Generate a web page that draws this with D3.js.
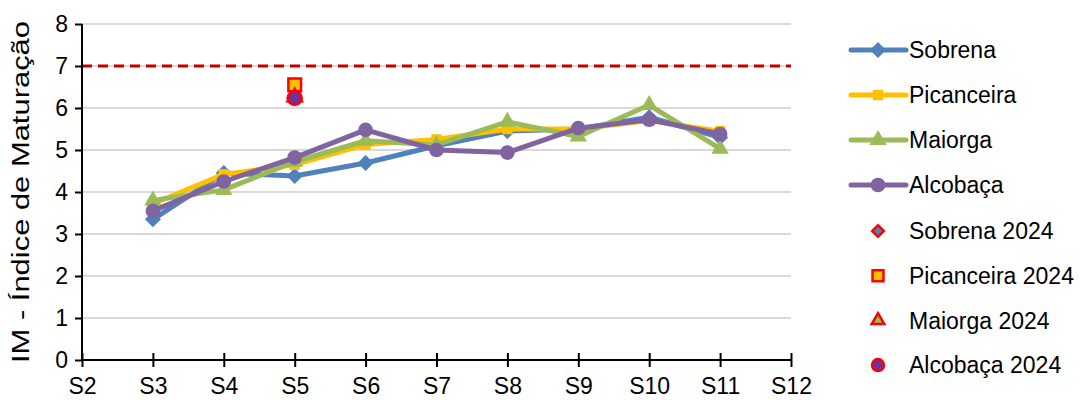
<!DOCTYPE html>
<html><head><meta charset="utf-8">
<script src="https://cdn.jsdelivr.net/npm/d3@7"></script>
<style>body{margin:0;background:#fff}text{font-family:"Liberation Sans",Arial,sans-serif;fill:#000}</style>
</head><body><svg id="c" width="1083" height="400"></svg>
<script>
const weeks = ["S2","S3","S4","S5","S6","S7","S8","S9","S10","S11","S12"];
const dataWeeks = ["S3","S4","S5","S6","S7","S8","S9","S10","S11"];
const sobrena    = [3.35,4.45,4.38,4.69,5.1,5.45,5.5,5.78,5.3];
const picanceira = [3.72,4.42,4.65,5.13,5.25,5.5,5.5,5.7,5.45];
const maiorga    = [3.8,4.05,4.72,5.22,5.12,5.67,5.32,6.07,5.03];
const alcobaca   = [3.55,4.25,4.82,5.48,5.0,4.94,5.52,5.72,5.38];
const week2024 = "S5";
const sobrena2024 = 6.24, picanceira2024 = 6.55, maiorga2024 = 6.26, alcobaca2024 = 6.24;
const yTicks = [0,1,2,3,4,5,6,7,8];
const threshold = 7;
const yTitle = "IM - Índice de Maturação";

const svg = d3.select("#c");
const x = d3.scalePoint().domain(weeks).range([82,791]);
const y = d3.scaleLinear().domain([0,8]).range([360,24]);
const FS = 23;

svg.append("g").selectAll("line").data(yTicks.filter(d=>d>0)).join("line")
  .attr("x1",82).attr("x2",791).attr("y1",d=>y(d)).attr("y2",d=>y(d))
  .attr("stroke","#d9d9d9").attr("stroke-width",2);

svg.append("line").attr("x1",82).attr("x2",791).attr("y1",y(threshold)).attr("y2",y(threshold))
  .attr("stroke","#c00000").attr("stroke-width",3).attr("stroke-dasharray","10,6");

const yAxis = svg.append("g").attr("transform","translate(82,0)")
  .call(d3.axisLeft(y).tickValues(yTicks).tickSize(7).tickPadding(7));
const xAxis = svg.append("g").attr("transform","translate(0,360)")
  .call(d3.axisBottom(x).tickSize(7).tickPadding(11));
[yAxis,xAxis].forEach(a=>{
  a.select(".domain").attr("stroke","#000").attr("stroke-width",2);
  a.selectAll(".tick line").attr("stroke","#000").attr("stroke-width",2);
  a.selectAll(".tick text").attr("font-size",FS).attr("font-family","Liberation Sans, Arial, sans-serif").attr("fill","#000");
});
xAxis.selectAll(".tick line").attr("y1",-7);
yAxis.select(".domain").attr("d","M0,360V24");
xAxis.select(".domain").attr("d","M82,0H791");

svg.append("text").attr("transform","translate(29,192) rotate(-90)")
  .attr("text-anchor","middle").attr("font-size",FS)
  .attr("textLength",342).attr("lengthAdjust","spacingAndGlyphs").text(yTitle);

const diamondType = {draw(ctx,size){const r=Math.sqrt(size/2);ctx.moveTo(0,-r);ctx.lineTo(r,0);ctx.lineTo(0,r);ctx.lineTo(-r,0);ctx.closePath();}};
const sym = {
  diamond: d3.symbol().type(diamondType),
  square: d3.symbol().type(d3.symbolSquare),
  triangle: d3.symbol().type(d3.symbolTriangle),
  circle: d3.symbol().type(d3.symbolCircle)
};
const series = [
  {name:"Sobrena", vals:sobrena, color:"#4f81bd", shape:"diamond", size:130},
  {name:"Picanceira", vals:picanceira, color:"#ffc000", shape:"square", size:110},
  {name:"Maiorga", vals:maiorga, color:"#9bbb59", shape:"triangle", size:130},
  {name:"Alcobaça", vals:alcobaca, color:"#8064a2", shape:"circle", size:170}
];
const line = d3.line().x(d=>x(d.w)).y(d=>y(d.v));
series.forEach(s=>{
  const pts = dataWeeks.map((w,i)=>({w,v:s.vals[i]}));
  const g = svg.append("g");
  g.append("path").datum(pts).attr("d",line).attr("fill","none")
    .attr("stroke",s.color).attr("stroke-width",5).attr("stroke-linejoin","round");
  g.selectAll("path.m").data(pts).join("path").attr("class","m")
    .attr("d",sym[s.shape].size(s.size)())
    .attr("transform",d=>`translate(${x(d.w)},${y(d.v)})`).attr("fill",s.color);
});

const pts2024 = [
  {name:"Sobrena 2024", v:sobrena2024, color:"#4f81bd", shape:"diamond", size:90},
  {name:"Picanceira 2024", v:picanceira2024, color:"#ffc000", shape:"square", size:160},
  {name:"Maiorga 2024", v:maiorga2024, color:"#9bbb59", shape:"triangle", size:90},
  {name:"Alcobaça 2024", v:alcobaca2024, color:"#7030a0", shape:"circle", size:150}
];
pts2024.forEach(p=>{
  svg.append("path").attr("d",sym[p.shape].size(p.size)())
    .attr("transform",`translate(${x(week2024)},${y(p.v)})`)
    .attr("fill",p.color).attr("stroke","#ff0000").attr("stroke-width",2.5);
});

const lg = svg.append("g");
series.forEach((s,i)=>{
  const cy = 50 + i*45;
  lg.append("line").attr("x1",851).attr("x2",906).attr("y1",cy).attr("y2",cy)
    .attr("stroke",s.color).attr("stroke-width",5).attr("stroke-linecap","round");
  lg.append("path").attr("d",sym[s.shape].size(s.size)()).attr("transform",`translate(878,${cy})`).attr("fill",s.color);
  lg.append("text").attr("x",909).attr("y",cy).attr("dy","0.36em").attr("font-size",FS).text(s.name);
});
pts2024.forEach((p,i)=>{
  const cy = 231 + i*44.7;
  lg.append("path").attr("d",sym[p.shape].size(p.size*0.75)()).attr("transform",`translate(878,${cy})`)
    .attr("fill",p.color).attr("stroke","#ff0000").attr("stroke-width",2.5);
  lg.append("text").attr("x",909).attr("y",cy).attr("dy","0.36em").attr("font-size",FS).text(p.name);
});
</script></body></html>
